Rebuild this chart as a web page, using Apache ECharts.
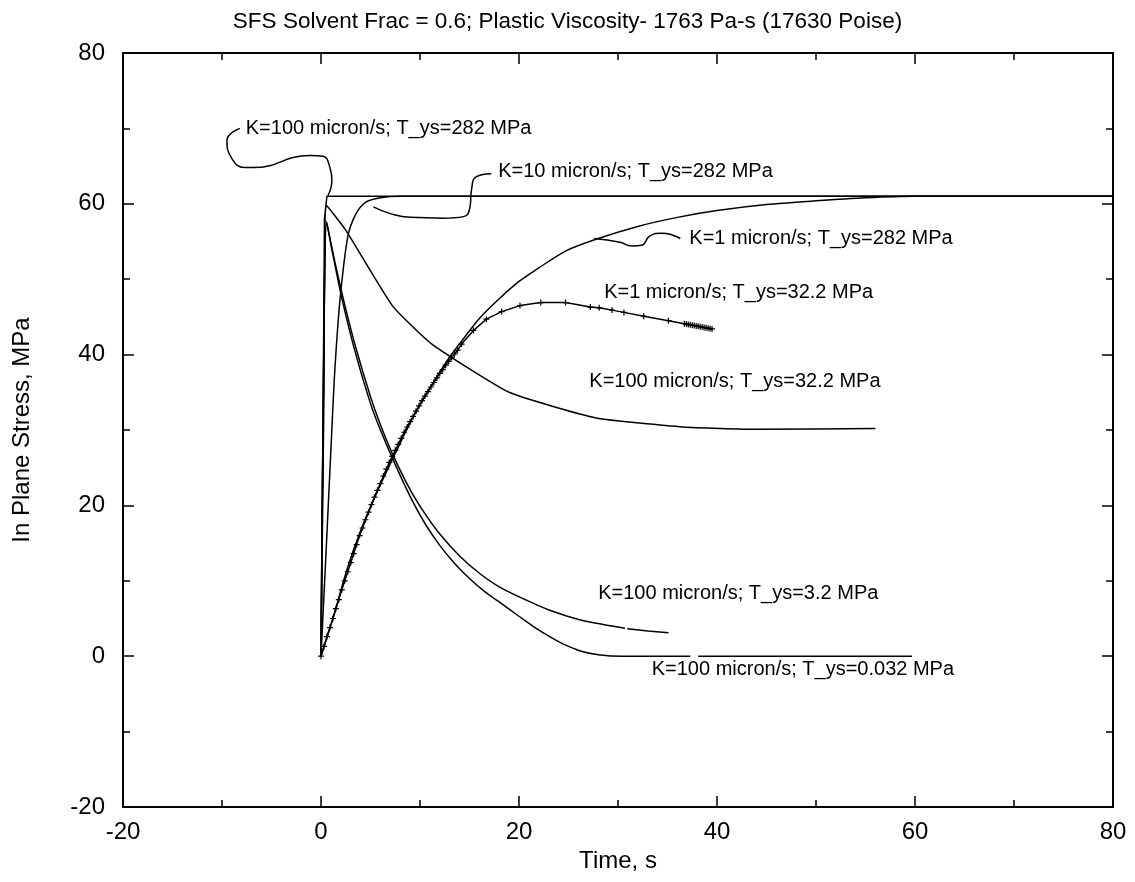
<!DOCTYPE html>
<html><head><meta charset="utf-8">
<script src="https://cdn.jsdelivr.net/npm/echarts@6/dist/echarts.min.js"></script>
<style>html,body{margin:0;padding:0;background:#fff}#c{width:1135px;height:882px}</style>
</head><body><div id="c"></div>
<script>
// ---- data (time s, stress MPa) ----
const titleText = "SFS Solvent Frac = 0.6; Plastic Viscosity- 1763 Pa-s (17630 Poise)";
const xName = "Time, s";
const yName = "In Plane Stress, MPa";

// K=100 micron/s; T_ys=282 MPa
const k100_282_t = [0, 0.2, 0.35, 0.6, 80];
const k100_282_s = [0, 30, 58, 61, 61];
// K=10 micron/s; T_ys=282 MPa
const k10_282_t = [0, 0.5, 1.08, 1.4, 1.9, 2.7, 3.5, 4.5, 6, 8, 80];
const k10_282_s = [0, 13.5, 29.6, 38, 47, 55.6, 58.6, 60.2, 60.8, 61, 61];
// K=1 micron/s; T_ys=282 MPa
const k1_282_t = [0, 1.25, 2.6, 3.9, 5.6, 7.5, 9.3, 11.3, 13, 14.5, 16, 18, 20, 22, 24.8, 28, 32, 36, 40, 45, 50, 55, 60, 80];
const k1_282_s = [0, 5.2, 11.4, 16.3, 21.6, 26.9, 31.7, 36.2, 39.7, 42.3, 44.8, 47.4, 49.7, 51.5, 53.8, 55.4, 57, 58.2, 59.1, 59.9, 60.4, 60.8, 61, 61];
// K=1 micron/s; T_ys=32.2 MPa (with markers)
const k1_32_t = [0, 0.3, 0.6, 0.9, 1.2, 1.5, 1.8, 2.1, 2.4, 2.7, 3.0, 3.3, 3.6, 3.9, 4.2, 4.5, 4.8, 5.1, 5.4, 5.7, 6.0, 6.3, 6.6, 6.9, 7.2, 7.5, 7.8, 8.1, 8.4, 8.7, 9.0, 9.3, 9.6, 9.9, 10.2, 10.5, 10.8, 11.1, 11.4, 11.7, 12.0, 12.3, 12.6, 12.9, 13.2, 13.5, 13.8, 14.2, 15.4, 16.7, 18.25, 20.1, 22.2, 24.7, 27.2, 28.1, 29.4, 30.6, 32.6, 35.1, 36.7, 36.9, 37.1, 37.3, 37.5, 37.7, 37.9, 38.1, 38.3, 38.5, 38.7, 38.9, 39.1, 39.3, 39.5];
const k1_32_s = [0, 1.3, 2.6, 3.8, 5.0, 6.3, 7.5, 8.8, 10.0, 11.2, 12.4, 13.6, 14.8, 16.0, 17.0, 18.1, 19.1, 20.1, 21.1, 22.0, 22.9, 23.9, 24.8, 25.7, 26.5, 27.3, 28.1, 28.9, 29.7, 30.4, 31.1, 31.8, 32.5, 33.2, 33.9, 34.5, 35.1, 35.7, 36.3, 36.9, 37.5, 38.0, 38.6, 39.1, 39.6, 40.1, 40.6, 41.4, 43.2, 44.7, 45.7, 46.5, 46.9, 46.9, 46.3, 46.2, 45.9, 45.6, 45.1, 44.5, 44.1, 44.05, 44.0, 43.95, 43.9, 43.85, 43.8, 43.75, 43.7, 43.65, 43.6, 43.55, 43.5, 43.45, 43.4];
// K=100 micron/s; T_ys=32.2 MPa
const k100_32_t = [0, 0.3, 0.55, 2.5, 7.2, 11.2, 19, 27.8, 36.6, 44, 56];
const k100_32_s = [0, 35, 59.8, 56.5, 46.5, 41.4, 35, 31.6, 30.4, 30.1, 30.2];
// K=100 micron/s; T_ys=3.2 MPa (small gap near 31 s)
const k100_3_t = [0, 0.2, 0.57, 1, 1.5, 2.4, 3.5, 5, 6, 7.3, 9, 10.5, 12, 14, 16, 18, 20.8, 23.1, 26.2, 28.5, 30.7, 30.8, 30.94, 33, 35.1];
const k100_3_s = [0, 30, 57.6, 54.8, 51.7, 46.6, 41, 34.4, 30.7, 26.6, 22.1, 18.9, 16.2, 13.3, 11, 9.2, 7.4, 6.1, 4.8, 4.2, 3.7, null, 3.65, 3.35, 3.1];
// K=100 micron/s; T_ys=0.032 MPa (small gap near 37.7 s)
const k100_0032_t = [0, 0.2, 0.57, 1, 1.5, 2.1, 3.4, 5, 6, 7.3, 9, 10.5, 12, 13.5, 15, 16.5, 18, 20, 21.5, 23.1, 24.5, 26.2, 28, 30.5, 37.3, 37.7, 38.1, 59.7];
const k100_0032_s = [0, 30, 57.6, 54.6, 51.3, 47.5, 40.6, 33.5, 30.0, 26.0, 21.2, 17.6, 14.7, 12.3, 10.3, 8.6, 7.2, 5.3, 3.9, 2.6, 1.6, 0.7, 0.2, 0, 0, null, 0, 0];

// leader lines from labels to curves (data coordinates)
const leader1_t = [-8.2, -9.5, -9.0, -7.7, -6.9, -1.1, 0.2, 0.9, 1.1, 0.7];
const leader1_s = [70.0, 68.4, 66.0, 64.8, 64.8, 66.4, 66.3, 64.8, 63.1, 61.1];
const leader2_t = [17.2, 15.7, 15.2, 15.05, 14.4, 12.35, 9.0, 7.0, 5.3];
const leader2_s = [64.0, 63.6, 61.8, 59.6, 58.3, 58.1, 58.2, 58.7, 59.6];
const leader3_t = [36.3, 34.4, 33.2, 32.4, 31.4, 30.2, 27.6];
const leader3_s = [55.4, 56.1, 55.7, 54.5, 54.4, 54.9, 55.4];

// annotation labels
const labelX = [-7.8, 17.7, 37.0, 28.4, 26.9, 27.8, 33.2];
const labelY = [70.0, 64.3, 55.4, 48.3, 36.4, 8.3, -1.8];
const labelText = [
  "K=100 micron/s; T_ys=282 MPa",
  "K=10 micron/s; T_ys=282 MPa",
  "K=1 micron/s; T_ys=282 MPa",
  "K=1 micron/s; T_ys=32.2 MPa",
  "K=100 micron/s; T_ys=32.2 MPa",
  "K=100 micron/s; T_ys=3.2 MPa",
  "K=100 micron/s; T_ys=0.032 MPa"
];

const xTicks = {min: -20, max: 80, interval: 20};
const yTicks = {min: -20, max: 80, interval: 20};

// ---- build ----
const zip = (a, b) => a.map((v, i) => [v, b[i]]);
const FONT = "Liberation Sans, Arial, sans-serif";
const lineBase = {type: 'line', symbol: 'none', smooth: false, silent: true,
  lineStyle: {color: '#000', width: 1.5}, itemStyle: {color: '#000', opacity: 1}, z: 3, animation: false};
const plus = 'path://M4,0h2v4h4v2h-4v4h-2v-4h-4v-2h4z';

const series = [
  Object.assign({}, lineBase, {name: 'k100_282', data: zip(k100_282_t, k100_282_s)}),
  Object.assign({}, lineBase, {name: 'k10_282', data: zip(k10_282_t, k10_282_s), smooth: 0.3}),
  Object.assign({}, lineBase, {name: 'k1_282', data: zip(k1_282_t, k1_282_s), smooth: 0.3}),
  Object.assign({}, lineBase, {name: 'k1_32', data: zip(k1_32_t, k1_32_s), symbol: plus, symbolSize: 6, showSymbol: true, showAllSymbol: true}),
  Object.assign({}, lineBase, {name: 'k100_32', data: zip(k100_32_t, k100_32_s), smooth: 0.15}),
  Object.assign({}, lineBase, {name: 'k100_3', data: zip(k100_3_t, k100_3_s), smooth: 0.3, connectNulls: false}),
  Object.assign({}, lineBase, {name: 'k100_0032', data: zip(k100_0032_t, k100_0032_s), smooth: 0.3, connectNulls: false}),
  Object.assign({}, lineBase, {name: 'leader1', data: zip(leader1_t, leader1_s), smooth: 0.5}),
  Object.assign({}, lineBase, {name: 'leader2', data: zip(leader2_t, leader2_s), smooth: 0.5}),
  Object.assign({}, lineBase, {name: 'leader3', data: zip(leader3_t, leader3_s), smooth: 0.5}),
  {type: 'scatter', symbolSize: 0, silent: true, animation: false, z: 5,
   itemStyle: {opacity: 1, color: '#000'},
   data: labelX.map((x, i) => ({value: [x, labelY[i]], name: labelText[i]})),
   label: {show: true, position: 'right', distance: 2, formatter: p => p.name, opacity: 1,
     color: '#000', fontFamily: FONT, fontSize: 20, verticalAlign: 'middle'}}
];

const axisCommon = {
  type: 'value',
  axisLine: {show: true, onZero: false, lineStyle: {color: '#000', width: 2}},
  axisTick: {show: true, inside: true, length: 11, lineStyle: {color: '#000', width: 1.5}},
  minorTick: {show: true, splitNumber: 2, length: 7, lineStyle: {color: '#000', width: 1.5}},
  splitLine: {show: false},
  axisLabel: {color: '#000', fontFamily: FONT, fontSize: 24}
};

const option = {
  backgroundColor: '#fff',
  animation: false,
  title: {text: titleText, left: 'center', top: 5,
    textStyle: {fontFamily: FONT, fontSize: 22.5, fontWeight: 'normal', color: '#000'}},
  grid: {left: 123, right: 22, top: 53, bottom: 75, containLabel: false},
  xAxis: [
    Object.assign({}, axisCommon, xTicks, {position: 'bottom', name: xName, nameLocation: 'middle', nameGap: 42,
      nameTextStyle: {fontFamily: FONT, fontSize: 24, color: '#000'},
      axisLabel: Object.assign({}, axisCommon.axisLabel, {margin: 13})}),
    Object.assign({}, axisCommon, xTicks, {position: 'top', axisLabel: {show: false}})
  ],
  yAxis: [
    Object.assign({}, axisCommon, yTicks, {position: 'left', name: yName, nameLocation: 'middle', nameGap: 89,
      nameTextStyle: {fontFamily: FONT, fontSize: 24, color: '#000'},
      axisLabel: Object.assign({}, axisCommon.axisLabel, {margin: 18})}),
    Object.assign({}, axisCommon, yTicks, {position: 'right', axisLabel: {show: false}})
  ],
  series: series
};

const chart = echarts.init(document.getElementById('c'), null, {renderer: 'canvas'});
chart.setOption(option);
</script>
</body></html>
